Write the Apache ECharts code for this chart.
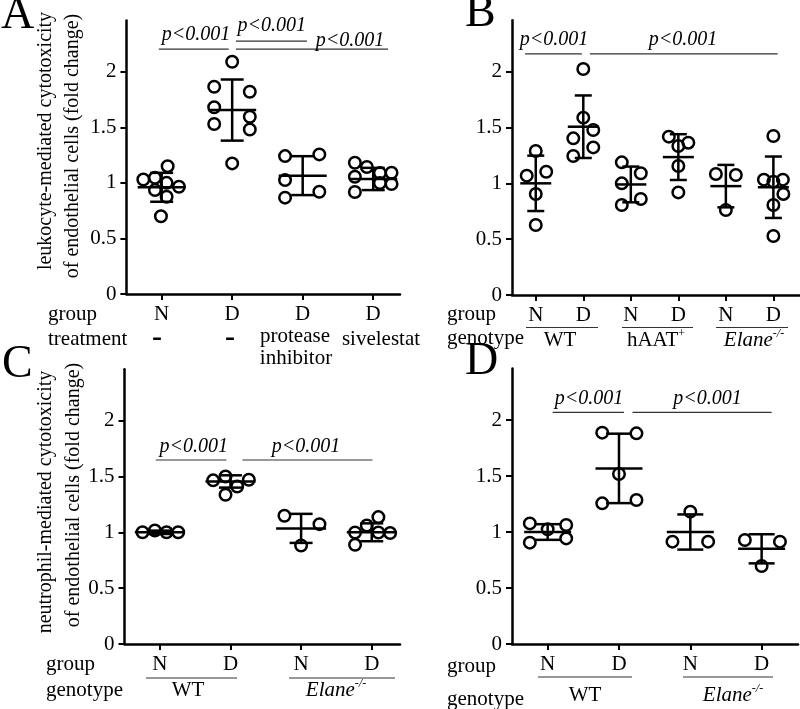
<!DOCTYPE html>
<html><head><meta charset="utf-8">
<script src="https://cdn.jsdelivr.net/npm/echarts@6/dist/echarts.min.js"></script>
<style>html,body{margin:0;padding:0;background:#fff}#c{width:800px;height:709px}</style>
</head><body><div id="c"></div>
<script>
// ---------- data ----------
const yTicks = [0, 0.5, 1, 1.5, 2];
const pText = 'p<0.001';

// Panel A
const catA = ['N', 'D', 'D', 'D'];
const valA = [
  [1.03, 1.046, 1.15, 1.0, 0.965, 0.935, 0.875, 0.70],
  [2.09, 1.865, 1.82, 1.68, 1.595, 1.53, 1.48, 1.175],
  [1.241, 1.256, 1.025, 0.92, 0.867],
  [1.181, 1.143, 1.089, 1.091, 1.055, 0.999, 0.99, 0.918]
];
const jitA = [
  [-0.26, -0.095, 0.085, 0.07, 0.245, -0.095, 0.07, -0.01],
  [0, -0.255, 0.25, -0.255, 0.25, -0.255, 0.25, 0],
  [-0.25, 0.236, -0.25, 0.236, -0.25],
  [-0.26, -0.09, 0.095, 0.26, -0.26, 0.095, 0.26, -0.26]
];
const meanA = [0.96, 1.655, 1.065, 1.035];
const sdA = [0.13, 0.275, 0.175, 0.1];
const brA = [[0.96, 1.95, 2.204], [2.054, 3.06, 2.276], [2.054, 4.21, 2.204]];
const pA = [[1.487, 2.33], [2.56, 2.41], [3.67, 2.28]];

// Panel B
const catB = ['N', 'D', 'N', 'D', 'N', 'D'];
const valB = [
  [1.29, 1.069, 1.104, 0.904, 0.627],
  [2.024, 1.588, 1.478, 1.403, 1.322, 1.245],
  [1.188, 1.09, 1.0, 0.86, 0.806],
  [1.418, 1.364, 1.334, 1.155, 0.919],
  [1.084, 1.075, 0.761],
  [1.424, 1.033, 1.015, 1.033, 0.905, 0.806, 0.528]
];
const jitB = [
  [0, -0.19, 0.22, 0, 0],
  [0, 0, 0.21, -0.21, 0.21, -0.21],
  [-0.19, 0.21, -0.19, 0.21, -0.19],
  [-0.2, 0.21, 0, 0, 0],
  [-0.21, 0.21, 0],
  [0, -0.2, 0, 0.2, 0.21, 0, 0]
];
const meanB = [1.0, 1.507, 0.99, 1.235, 0.975, 0.965];
const sdB = [0.248, 0.28, 0.16, 0.205, 0.19, 0.275];
const brB = [[0.775, 1.97, 2.159], [2.14, 6.09, 2.159]];
const pB = [[1.385, 2.29], [4.1, 2.29]];

// Panel C
const catC = ['N', 'D', 'N', 'D'];
const valC = [
  [1.0, 1.016, 1.0, 1.0],
  [1.465, 1.50, 1.47, 1.41, 1.336],
  [1.148, 1.073, 0.882],
  [1.136, 1.061, 0.998, 0.993, 0.998, 0.888]
];
const jitC = [
  [-0.245, -0.07, 0.095, 0.26],
  [-0.245, -0.07, 0.26, 0.095, -0.07],
  [-0.236, 0.26, 0],
  [0.094, -0.07, -0.236, 0.26, 0.094, -0.236]
];
const meanC = [1.0, 1.455, 1.035, 1.0];
const sdC = [0.015, 0.055, 0.13, 0.08];
const brC = [[0.943, 1.944, 1.647], [2.17, 4.01, 1.647]];
const pC = [[1.48, 1.77], [3.07, 1.77]];

// Panel D
const catD = ['N', 'D', 'N', 'D'];
const valD = [
  [1.077, 1.063, 1.024, 0.905, 0.943],
  [1.887, 1.881, 1.518, 1.256, 1.286],
  [1.182, 0.914, 0.914],
  [0.929, 0.914, 0.696]
];
const jitD = [
  [-0.25, 0.26, 0, -0.25, 0.26],
  [-0.235, 0.245, 0, -0.235, 0.245],
  [0, -0.25, 0.25],
  [-0.235, 0.257, 0]
];
const meanD = [1.0, 1.568, 1.0, 0.85];
const sdD = [0.07, 0.31, 0.157, 0.13];
const brD = [[1.07, 2.07, 2.069], [2.19, 4.14, 2.069]];
const pD = [[1.58, 2.19], [3.24, 2.19]];

// ---------- layout ----------
const FONT = '"Liberation Serif", "Times New Roman", serif';
const panels = [
  {cats: catA, vals: valA, jit: jitA, mean: meanA, sd: sdA, br: brA, p: pA,
   left: 126.4, top: 20.6, width: 273.6, height: 273.4, xMax: 4.38, meanHalf: 24, capHalf: 11.5},
  {cats: catB, vals: valB, jit: jitB, mean: meanB, sd: sdB, br: brB, p: pB,
   left: 512, top: 20.3, width: 288, height: 274.7, xMax: 6.56, meanHalf: 15.5, capHalf: 8.5},
  {cats: catC, vals: valC, jit: jitC, mean: meanC, sd: sdC, br: brC, p: pC,
   left: 124.5, top: 369.2, width: 275.5, height: 274.8, xMax: 4.40, meanHalf: 25, capHalf: 11.5},
  {cats: catD, vals: valD, jit: jitD, mean: meanD, sd: sdD, br: brD, p: pD,
   left: 512, top: 368.5, width: 286, height: 275.5, xMax: 4.51, meanHalf: 23.5, capHalf: 13}
];

const option = {
  animation: false,
  backgroundColor: '#fff',
  grid: [], xAxis: [], yAxis: [], series: [], graphic: []
};

panels.forEach((p, i) => {
  const idx = p.cats.map((c, k) => k + 1);
  option.grid.push({left: p.left, top: p.top, width: p.width, height: p.height});
  option.xAxis.push({
    type: 'value', gridIndex: i, min: 0.5, max: p.xMax,
    axisLine: {show: true, onZero: false, lineStyle: {color: '#000', width: 2.5}},
    axisTick: {show: true, customValues: idx, length: 6, lineStyle: {color: '#000', width: 2}},
    axisLabel: {customValues: idx, formatter: v => p.cats[Math.round(v) - 1], color: '#000',
                fontFamily: FONT, fontSize: 21, margin: 10},
    splitLine: {show: false}
  });
  option.yAxis.push({
    type: 'value', gridIndex: i, min: 0, max: 2.46,
    axisLine: {show: true, onZero: false, lineStyle: {color: '#000', width: 2.5}},
    axisTick: {show: true, customValues: yTicks, length: 6, lineStyle: {color: '#000', width: 2}},
    axisLabel: {customValues: yTicks, color: '#000', fontFamily: FONT, fontSize: 21, margin: 10},
    splitLine: {show: false}
  });
  const pts = [];
  p.vals.forEach((g, gi) => g.forEach((v, k) => pts.push([gi + 1 + p.jit[gi][k], v])));
  option.series.push({
    type: 'scatter', xAxisIndex: i, yAxisIndex: i, data: pts, symbol: 'circle', symbolSize: 11.5,
    itemStyle: {color: 'rgba(0,0,0,0)', borderColor: '#000', borderWidth: 2.5, opacity: 1},
    z: 2, silent: true
  });
  option.series.push({
    type: 'custom', xAxisIndex: i, yAxisIndex: i, z: 3, silent: true,
    data: p.mean.map((m, gi) => [gi + 1, m, p.sd[gi]]),
    renderItem: (params, api) => {
      const x = api.value(0), m = api.value(1), s = api.value(2);
      const c = api.coord([x, m]), t = api.coord([x, m + s]), b = api.coord([x, m - s]);
      const st = {stroke: '#000', lineWidth: 2.5};
      return {type: 'group', children: [
        {type: 'line', shape: {x1: c[0] - p.meanHalf, y1: c[1], x2: c[0] + p.meanHalf, y2: c[1]}, style: st},
        {type: 'line', shape: {x1: t[0], y1: t[1], x2: b[0], y2: b[1]}, style: st},
        {type: 'line', shape: {x1: t[0] - p.capHalf, y1: t[1], x2: t[0] + p.capHalf, y2: t[1]}, style: st},
        {type: 'line', shape: {x1: b[0] - p.capHalf, y1: b[1], x2: b[0] + p.capHalf, y2: b[1]}, style: st}
      ]};
    }
  });
  option.series.push({
    type: 'custom', xAxisIndex: i, yAxisIndex: i, z: 4, clip: false, silent: true,
    data: p.br.map((b, k) => [b[0], b[1], b[2], p.p[k][0], p.p[k][1]]),
    renderItem: (params, api) => {
      const a = api.coord([api.value(0), api.value(2)]);
      const b = api.coord([api.value(1), api.value(2)]);
      const t = api.coord([api.value(3), api.value(4)]);
      return {type: 'group', children: [
        {type: 'line', shape: {x1: a[0], y1: a[1], x2: b[0], y2: b[1]}, style: {stroke: '#333', lineWidth: 1.2}},
        {type: 'text', x: t[0], y: t[1], style: {text: pText, fontFamily: FONT, fontSize: 20, fontStyle: 'italic',
          fill: '#000', align: 'center', verticalAlign: 'middle'}}
      ]};
    }
  });
});

// ---------- annotations ----------
const G = option.graphic;
function txt(x, y, text, opts) {
  opts = opts || {};
  G.push({type: 'text', x: x, y: y, rotation: opts.rot || 0, silent: true, style: Object.assign({
    text: text, fontFamily: FONT, fontSize: opts.size || 21, fill: '#000',
    align: opts.align || 'center', verticalAlign: 'middle'}, opts.style || {})});
}
function hline(x1, x2, y) {
  G.push({type: 'line', silent: true, shape: {x1: x1, y1: y, x2: x2, y2: y}, style: {stroke: '#333', lineWidth: 1.2}});
}
const rich = {
  n: {fontFamily: FONT, fontSize: 21, lineHeight: 24, fill: '#000'},
  i: {fontFamily: FONT, fontSize: 21, fontStyle: 'italic', lineHeight: 24, fill: '#000'},
  s: {fontFamily: FONT, fontSize: 12, verticalAlign: 'top', lineHeight: 24, fill: '#000'},
  si: {fontFamily: FONT, fontSize: 12, fontStyle: 'italic', verticalAlign: 'top', lineHeight: 24, fill: '#000'}
};
function rtxt(x, y, text) {
  G.push({type: 'text', x: x, y: y, silent: true, style: {text: text, rich: rich, align: 'center', verticalAlign: 'middle'}});
}

// panel letters
txt(1, 16, 'A', {size: 46, align: 'left'});
txt(465, 14, 'B', {size: 46, align: 'left'});
txt(2, 365, 'C', {size: 46, align: 'left'});
txt(465, 362, 'D', {size: 46, align: 'left'});

// y-axis titles
txt(46, 141, 'leukocyte-mediated cytotoxicity', {rot: Math.PI / 2, size: 20});
txt(73, 146, 'of endothelial cells (fold change)', {rot: Math.PI / 2, size: 20});
txt(46, 502, 'neutrophil-mediated cytotoxicity', {rot: Math.PI / 2, size: 20});
txt(74, 495, 'of endothelial cells (fold change)', {rot: Math.PI / 2, size: 20});

// panel A rows
txt(48, 314, 'group', {align: 'left'});
txt(48, 339, 'treatment', {align: 'left'});
txt(157, 338, '-', {size: 30, style: {fontWeight: 'bold'}});
txt(230, 338, '-', {size: 30, style: {fontWeight: 'bold'}});
txt(295, 336, 'protease');
txt(296, 358, 'inhibitor');
txt(381, 339, 'sivelestat');

// panel B rows
txt(447, 314, 'group', {align: 'left'});
txt(447, 338, 'genotype', {align: 'left'});
hline(526, 598, 327.5); hline(622, 693, 327.5); hline(716, 788, 327.5);
txt(560, 340, 'WT');
rtxt(656, 340, '{n|hAAT}{s|+}');
rtxt(754, 340, '{i|Elane}{si|-/-}');

// panel C rows
txt(46, 664, 'group', {align: 'left'});
txt(46, 690, 'genotype', {align: 'left'});
hline(146, 237, 678); hline(289, 395, 678);
txt(188, 690, 'WT');
rtxt(336, 690, '{i|Elane}{si|-/-}');

// panel D rows
txt(447, 666, 'group', {align: 'left'});
txt(447, 699, 'genotype', {align: 'left'});
hline(538, 632, 677); hline(683, 773, 677);
txt(585, 695, 'WT');
rtxt(733, 695, '{i|Elane}{si|-/-}');

const chart = echarts.init(document.getElementById('c'), null, {renderer: 'canvas'});
chart.setOption(option);
</script>
</body></html>
